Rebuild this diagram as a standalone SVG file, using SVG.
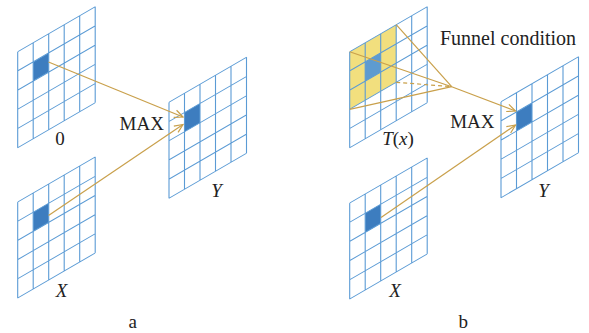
<svg xmlns="http://www.w3.org/2000/svg" xmlns:xlink="http://www.w3.org/1999/xlink" width="589" height="333" viewBox="0 0 589 333">
  <style>
    .gl { fill: none; stroke: #5B9BD5; stroke-width: 1.1; }
    .hi { fill: #3D7DBF; }
    .hiT { fill: #5E9BD0; }
    .yel { fill: #F2DF7E; }
    .con { fill: none; stroke: #C9A04B; stroke-width: 1.2; }
    .dash { stroke-dasharray: 4 3; }
    text { font-family: 'Liberation Serif', 'Times New Roman', serif; font-size: 19px; fill: #222; }
    .it { font-style: italic; }
  </style>
  <defs>
    <marker id="arr" markerUnits="userSpaceOnUse" markerWidth="12" markerHeight="12" viewBox="-10 -6 12 12" refX="0" refY="0" orient="auto">
      <path d="M-8.5,-3.8 L0,0 L-8.5,3.8" fill="none" stroke="#C9A04B" stroke-width="1.2"/>
    </marker>
    <path id="gridlines" class="gl" d="M0,0V96M15.5,0V96M31,0V96M46.5,0V96M62,0V96M77.5,0V96M0,0H77.5M0,19.2H77.5M0,38.4H77.5M0,57.6H77.5M0,76.8H77.5M0,96H77.5"/>
  </defs>
  <rect width="589" height="333" fill="#fff"/>

  <!-- Panel a -->
  <g id="a-zero">
    <g transform="matrix(1,-0.5806,0,1,17.7,51.7)">
      <rect class="hi" x="15.5" y="19.2" width="15.5" height="19.2"/>
      <use xlink:href="#gridlines"/>
    </g>
    <text x="60" y="145" text-anchor="middle">0</text>
  </g>
  <g id="a-x">
    <g transform="matrix(1,-0.5806,0,1,17.7,202)">
      <rect class="hi" x="15.5" y="19.2" width="15.5" height="19.2"/>
      <use xlink:href="#gridlines"/>
    </g>
    <text class="it" x="61.5" y="296.5" text-anchor="middle">X</text>
  </g>
  <g id="a-y">
    <g transform="matrix(1,-0.5806,0,1,169,102.3)">
      <rect class="hi" x="15.5" y="19.2" width="15.5" height="19.2"/>
      <use xlink:href="#gridlines"/>
    </g>
    <text class="it" x="216.5" y="196.5" text-anchor="middle">Y</text>
  </g>
  <text x="141.7" y="130" text-anchor="middle">MAX</text>
  <text x="132.7" y="328" text-anchor="middle">a</text>

  <!-- Panel b -->
  <g id="b-tx">
    <g transform="matrix(1,-0.5806,0,1,349.7,51.7)">
      <rect class="yel" x="0" y="0" width="46.5" height="57.6"/>
      <rect class="hiT" x="15.5" y="19.2" width="15.5" height="19.2"/>
      <use xlink:href="#gridlines"/>
    </g>
    <text x="398" y="145" text-anchor="middle"><tspan class="it">T</tspan>(<tspan class="it">x</tspan>)</text>
  </g>
  <g id="b-x">
    <g transform="matrix(1,-0.5806,0,1,349.7,203)">
      <rect class="hi" x="15.5" y="19.2" width="15.5" height="19.2"/>
      <use xlink:href="#gridlines"/>
    </g>
    <text class="it" x="395" y="296.5" text-anchor="middle">X</text>
  </g>
  <g id="b-y">
    <g transform="matrix(1,-0.5806,0,1,501,101.7)">
      <rect class="hi" x="15.5" y="19.2" width="15.5" height="19.2"/>
      <use xlink:href="#gridlines"/>
    </g>
    <text class="it" x="543.5" y="196.5" text-anchor="middle">Y</text>
  </g>
  <text x="472.3" y="128" text-anchor="middle">MAX</text>
  <text x="440" y="45" style="font-size:20px">Funnel condition</text>
  <text x="463.3" y="328" text-anchor="middle">b</text>

  <!-- Connectors -->
  <g id="connectors">
    <line class="con" x1="48.5" y1="62" x2="183" y2="117" marker-end="url(#arr)"/>
    <line class="con" x1="48.5" y1="215.5" x2="183" y2="124.5" marker-end="url(#arr)"/>
    <line class="con" x1="349.7" y1="51.7" x2="451.7" y2="86.7"/>
    <line class="con" x1="396.2" y1="24.7" x2="451.7" y2="86.7"/>
    <line class="con" x1="349.7" y1="109.3" x2="451.7" y2="86.7"/>
    <line class="con dash" x1="396.2" y1="82.3" x2="451.7" y2="86.7"/>
    <line class="con" x1="451.7" y1="86.7" x2="515.5" y2="111" marker-end="url(#arr)"/>
    <line class="con" x1="381" y1="217.5" x2="515.5" y2="125" marker-end="url(#arr)"/>
  </g>
</svg>
